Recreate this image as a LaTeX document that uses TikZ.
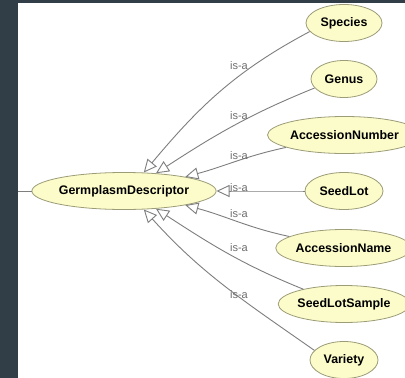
\documentclass[tikz,border=0pt]{standalone}
\usepackage{fontspec}
\setmainfont{Liberation Sans}
\usetikzlibrary{shapes.geometric,arrows.meta}
\definecolor{panel}{HTML}{323E47}
\definecolor{classfill}{HTML}{FCFCCB}
\definecolor{classline}{HTML}{9C9C78}
\definecolor{edgegray}{HTML}{7E7E7E}
\definecolor{labelgray}{HTML}{6E6E6E}
\tikzset{
	class/.style={ellipse, draw=classline, fill=classfill, line width=0.8pt, inner sep=0pt, minimum height=37pt, font=\fontsize{12.4}{14}\selectfont\bfseries},
	isa/.style={draw=edgegray, line width=0.9pt, -{Triangle[open, length=13pt, width=12pt]}},
	isalabel/.style={text=labelgray, inner sep=0pt, font=\fontsize{11}{12}\selectfont}
}

\begin{document}
\begin{tikzpicture}[x=1pt,y=1pt]
	\fill[panel] (0,0) rectangle (405,-378);
	\fill[white] (18,-3) rectangle (405,-378);
	\clip (0,0) rectangle (405,-378);
	% classes
	\node[class, minimum width=158pt] (germ) at (124,-191) {GermplasmDescriptor};
	\node[class, minimum width=76pt] (species) at (344,-23) {Species};
	\node[class, minimum width=66pt] (genus) at (344,-79) {Genus};
	\node[class, minimum width=137pt] (accnum) at (344.5,-135) {AccessionNumber};
	\node[class, minimum width=78pt] (seedlot) at (344,-191) {SeedLot};
	\node[class, minimum width=125pt] (accname) at (343.5,-248) {AccessionName};
	\node[class, minimum width=126pt] (sample) at (344,-304) {SeedLotSample};
	\node[class, minimum width=68pt] (variety) at (344,-360) {Variety};
	% superclass link
	\coordinate (parent) at (18,-191);
	\draw[edgegray, line width=0.9pt] (parent) -- (germ.west);
	% is-a links
	\foreach \child/\start/\out/\in/\tip in {species/194/208/50/43, genus/197/202/33/29, accnum/192/192/15/13, seedlot/180/180/0/0, accname/168/168/-15/-13, sample/160/158/-33/-29, variety/162/145/-48/-43}
	{ \draw[isa] (\child.\start) to[out=\out, in=\in] (germ.\tip);
	}
	% labels
	\foreach \y [count=\i] in {66,116,156,188,214,248,295}
	{ \node[isalabel] (isa\i) at (239,-\y) {is-a};
	}
\end{tikzpicture}
\end{document}
